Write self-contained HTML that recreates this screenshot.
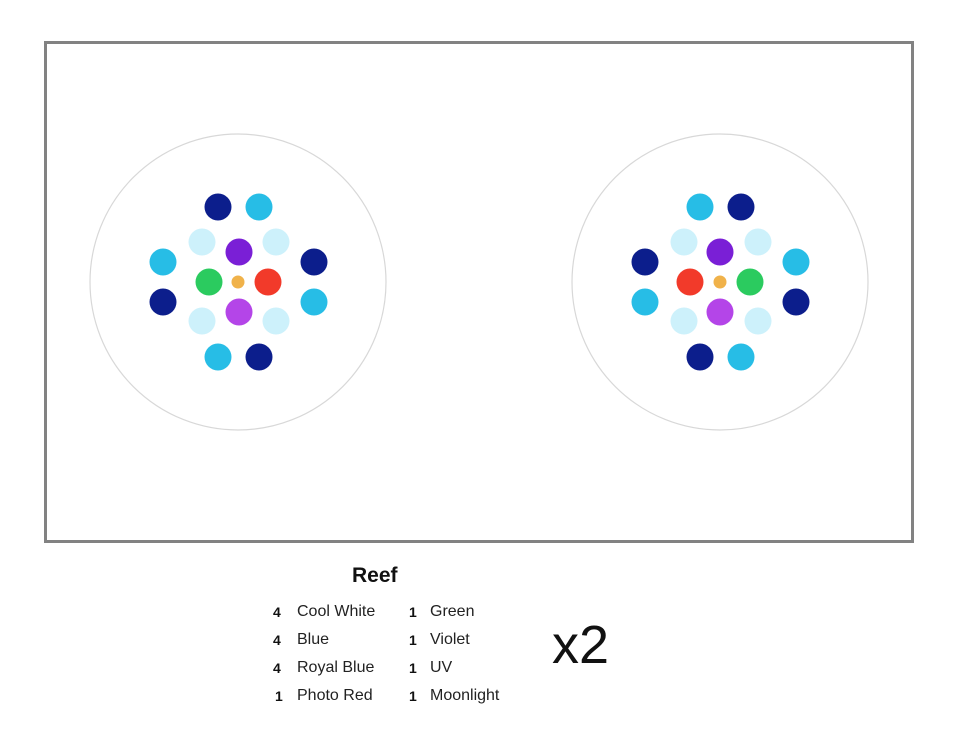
<!DOCTYPE html>
<html><head><meta charset="utf-8"><style>
body{margin:0;width:962px;height:742px;background:#fff;overflow:hidden;position:relative;font-family:"Liberation Sans",sans-serif}
.t{position:absolute;font-size:16px;color:#222;white-space:nowrap}
.n{position:absolute;font-size:14px;font-weight:bold;color:#111}
</style></head><body>
<svg width="962" height="742" style="position:absolute;left:0;top:0">
<rect x="45.5" y="42.5" width="867" height="499" fill="none" stroke="#828282" stroke-width="3"/>
<g>
<circle cx="238" cy="282" r="148" fill="none" stroke="#d8d8d8" stroke-width="1.2"/>
<circle cx="218" cy="207" r="13.5" fill="#0c1e8c"/>
<circle cx="259" cy="207" r="13.5" fill="#27bde6"/>
<circle cx="202" cy="242" r="13.5" fill="#cdf1fb"/>
<circle cx="276" cy="242" r="13.5" fill="#cdf1fb"/>
<circle cx="239" cy="252" r="13.5" fill="#7a1fd6"/>
<circle cx="163" cy="262" r="13.5" fill="#27bde6"/>
<circle cx="314" cy="262" r="13.5" fill="#0c1e8c"/>
<circle cx="209" cy="282" r="13.5" fill="#2bcb5f"/>
<circle cx="238" cy="282" r="6.5" fill="#f0b24a"/>
<circle cx="268" cy="282" r="13.5" fill="#f23a2a"/>
<circle cx="163" cy="302" r="13.5" fill="#0c1e8c"/>
<circle cx="314" cy="302" r="13.5" fill="#27bde6"/>
<circle cx="239" cy="312" r="13.5" fill="#b445e8"/>
<circle cx="202" cy="321" r="13.5" fill="#cdf1fb"/>
<circle cx="276" cy="321" r="13.5" fill="#cdf1fb"/>
<circle cx="218" cy="357" r="13.5" fill="#27bde6"/>
<circle cx="259" cy="357" r="13.5" fill="#0c1e8c"/>
</g>
<g>
<circle cx="720" cy="282" r="148" fill="none" stroke="#d8d8d8" stroke-width="1.2"/>
<circle cx="700" cy="207" r="13.5" fill="#27bde6"/>
<circle cx="741" cy="207" r="13.5" fill="#0c1e8c"/>
<circle cx="684" cy="242" r="13.5" fill="#cdf1fb"/>
<circle cx="758" cy="242" r="13.5" fill="#cdf1fb"/>
<circle cx="720" cy="252" r="13.5" fill="#7a1fd6"/>
<circle cx="645" cy="262" r="13.5" fill="#0c1e8c"/>
<circle cx="796" cy="262" r="13.5" fill="#27bde6"/>
<circle cx="690" cy="282" r="13.5" fill="#f23a2a"/>
<circle cx="720" cy="282" r="6.5" fill="#f0b24a"/>
<circle cx="750" cy="282" r="13.5" fill="#2bcb5f"/>
<circle cx="645" cy="302" r="13.5" fill="#27bde6"/>
<circle cx="796" cy="302" r="13.5" fill="#0c1e8c"/>
<circle cx="720" cy="312" r="13.5" fill="#b445e8"/>
<circle cx="684" cy="321" r="13.5" fill="#cdf1fb"/>
<circle cx="758" cy="321" r="13.5" fill="#cdf1fb"/>
<circle cx="700" cy="357" r="13.5" fill="#0c1e8c"/>
<circle cx="741" cy="357" r="13.5" fill="#27bde6"/>
</g>
</svg>
<div style="position:absolute;left:352px;top:564px;font-size:21px;font-weight:bold;color:#111">Reef</div>
<div class="n" style="left:273px;top:604px">4</div><div class="t" style="left:297px;top:603px">Cool White</div>
<div class="n" style="left:273px;top:632px">4</div><div class="t" style="left:297px;top:631px">Blue</div>
<div class="n" style="left:273px;top:660px">4</div><div class="t" style="left:297px;top:659px">Royal Blue</div>
<div class="n" style="left:275px;top:688px">1</div><div class="t" style="left:297px;top:687px">Photo Red</div>
<div class="n" style="left:409px;top:604px">1</div><div class="t" style="left:430px;top:603px">Green</div>
<div class="n" style="left:409px;top:632px">1</div><div class="t" style="left:430px;top:631px">Violet</div>
<div class="n" style="left:409px;top:660px">1</div><div class="t" style="left:430px;top:659px">UV</div>
<div class="n" style="left:409px;top:688px">1</div><div class="t" style="left:430px;top:687px">Moonlight</div>
<div style="position:absolute;left:552px;top:618px;font-size:54px;color:#111;line-height:1">x2</div>
</body></html>
